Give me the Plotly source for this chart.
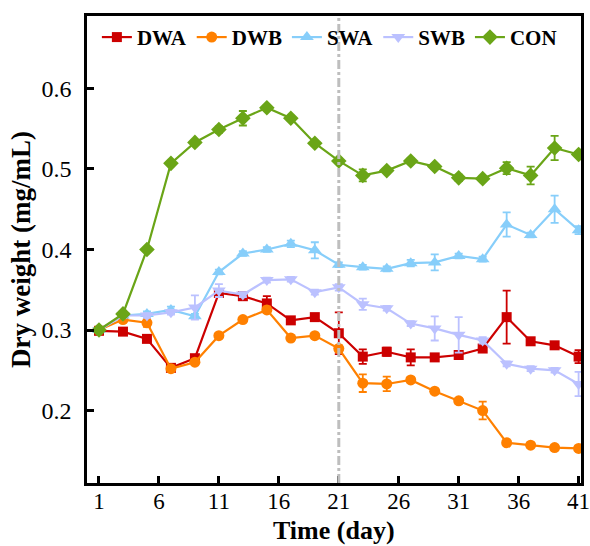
import plotly.graph_objects as go

days = [1, 3, 5, 7, 9, 11, 13, 15, 17, 19, 21, 23, 25, 27, 29, 31, 33, 35, 37, 39, 41]

dwa = [0.299, 0.298, 0.289, 0.253, 0.265, 0.346, 0.342, 0.333, 0.312, 0.316, 0.296,
       0.267, 0.273, 0.266, 0.266, 0.269, 0.277, 0.316, 0.286, 0.281, 0.267]
dwa_err = [0.002, 0.002, 0.003, 0.003, 0.004, 0.004, 0.003, 0.009, 0.003, 0.003, 0.026,
           0.009, 0.005, 0.010, 0.003, 0.004, 0.003, 0.033, 0.003, 0.003, 0.008]

dwb = [0.300, 0.313, 0.309, 0.252, 0.260, 0.293, 0.313, 0.325, 0.290, 0.293, 0.277,
       0.234, 0.233, 0.238, 0.224, 0.212, 0.200, 0.160, 0.157, 0.154, 0.153]
dwb_err = [0.002, 0.003, 0.005, 0.003, 0.003, 0.003, 0.003, 0.004, 0.003, 0.003, 0.004,
           0.011, 0.009, 0.003, 0.003, 0.003, 0.011, 0.003, 0.003, 0.003, 0.003]

swa = [0.300, 0.318, 0.320, 0.325, 0.317, 0.372, 0.395, 0.400, 0.407, 0.399, 0.381,
       0.378, 0.376, 0.383, 0.384, 0.392, 0.388, 0.431, 0.418, 0.450, 0.424]
swa_err = [0.002, 0.003, 0.003, 0.004, 0.003, 0.003, 0.003, 0.003, 0.004, 0.010, 0.003,
           0.003, 0.003, 0.004, 0.010, 0.003, 0.003, 0.015, 0.003, 0.017, 0.005]

swb = [0.300, 0.318, 0.318, 0.322, 0.328, 0.349, 0.344, 0.362, 0.363, 0.347, 0.353,
       0.332, 0.327, 0.308, 0.302, 0.294, 0.287, 0.258, 0.252, 0.250, 0.233]
swb_err = [0.002, 0.003, 0.003, 0.003, 0.015, 0.008, 0.003, 0.003, 0.003, 0.003, 0.004,
           0.007, 0.003, 0.003, 0.015, 0.022, 0.004, 0.003, 0.003, 0.003, 0.015]

con = [0.300, 0.320, 0.400, 0.507, 0.533, 0.549, 0.563, 0.576, 0.563, 0.532, 0.510,
       0.492, 0.498, 0.510, 0.503, 0.489, 0.488, 0.501, 0.492, 0.526, 0.518]
con_err = [0.002, 0.003, 0.003, 0.003, 0.003, 0.004, 0.009, 0.003, 0.003, 0.003, 0.003,
           0.0075, 0.003, 0.003, 0.003, 0.004, 0.003, 0.0075, 0.011, 0.015, 0.003]

x_ticks = [1, 6, 11, 16, 21, 26, 31, 36, 41]
y_ticks = [0.2, 0.3, 0.4, 0.5, 0.6]
divider_day = 21

series = [
    ("DWA", dwa, dwa_err, "#CC0000", "square", 10),
    ("DWB", dwb, dwb_err, "#FF8000", "circle", 11),
    ("SWA", swa, swa_err, "#87CEFA", "triangle-up", 12),
    ("SWB", swb, swb_err, "#BBC1FF", "triangle-down", 12),
    ("CON", con, con_err, "#6AA517", "diamond", 12),
]

FONT = "Liberation Serif"

fig = go.Figure()
for name, vals, errs, color, sym, size in series:
    fig.add_trace(go.Scatter(
        x=days, y=vals, name=name, mode="lines+markers",
        line=dict(color=color, width=2.2),
        marker=dict(symbol=sym, size=size, color=color),
        error_y=dict(type="data", array=errs, visible=True, color=color,
                     thickness=1.8, width=4),
    ))

fig.add_shape(type="line", x0=divider_day, x1=divider_day, y0=0, y1=1,
              xref="x", yref="paper",
              line=dict(color="#BEBEBE", width=3, dash="dashdot"), layer="above")

axis_common = dict(showline=True, mirror=True, linecolor="black", linewidth=2.5,
                   ticks="inside", ticklen=7, tickwidth=2.5, tickcolor="black",
                   showgrid=False, zeroline=False, automargin=False,
                   ticklabeloverflow="allow")

fig.add_annotation(text="<b>Time (day)</b>", xref="paper", yref="paper",
                   x=0.5, y=0, xanchor="center", yanchor="top", yshift=-32,
                   showarrow=False, borderpad=0,
                   font=dict(family=FONT, size=26, color="black"))

fig.update_layout(
    width=590, height=546,
    margin=dict(l=87, r=9, t=16, b=63),
    paper_bgcolor="white", plot_bgcolor="white",
    font=dict(family=FONT, size=23, color="black"),
    showlegend=True,
    legend=dict(orientation="h", x=0.02, y=0.998, xanchor="left", yanchor="top",
                font=dict(family=FONT, size=21, color="black", weight="bold"),
                bgcolor="rgba(0,0,0,0)", itemwidth=30, tracegroupgap=0),
    xaxis=dict(range=[0, 41.2], tickvals=x_ticks, ticktext=[str(v) for v in x_ticks],
               ticklabelstandoff=-4,
               tickfont=dict(family=FONT, size=23, color="black"),
               **axis_common),
    yaxis=dict(range=[0.11, 0.69], tickvals=y_ticks, ticktext=[f"{v:.1f}" for v in y_ticks],
               ticklabelstandoff=8,
               tickfont=dict(family=FONT, size=24, color="black"),
               title=dict(text="Dry weight (mg/mL)", font=dict(family=FONT, size=27, weight="bold"),
                          standoff=4),
               **axis_common),
)

fig.write_html("out.html")
